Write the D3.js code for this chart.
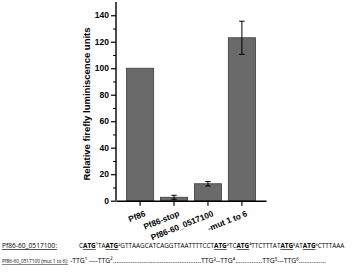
<!DOCTYPE html>
<html>
<head>
<meta charset="utf-8">
<script src="https://cdn.jsdelivr.net/npm/d3@7"></script>
<style>
  body { margin: 0; background: #fff; }
  svg { display: block; font-family: Arial, "Liberation Sans", sans-serif; }
  .axis text { font-weight: bold; font-size: 8.5px; fill: #000; }
  .axis path, .axis line { stroke: #000; }
</style>
</head>
<body>
<div id="graphic"></div>
<script>
// chart data
const categories = ['Pf86', 'Pf86-stop', 'Pf86-60_0517100', '-mut 1 to 6'];
const values = [100, 2.6, 12.8, 123];
const errors = [null, 1.5, 1.7, 12.5];
const yTicks = [0, 20, 40, 60, 80, 100, 120, 140];
const yMinorTicks = [10, 30, 50, 70, 90, 110, 130];
const yLabel = 'Relative firefly luminiscence units';

// sequence lines under the chart: [text, underlined]
const seqLabel1 = 'Pf86-60_0517100:';
const seqLabel2 = 'Pf86-60_0517100 (mut 1 to 6):';
const seq1 = [['C'], ['ATG', true], ['¹TA'], ['ATG', true], ['²GTTAAGCATCAGGTTAATTTTCCT'],
  ['ATG', true], ['³TC'], ['ATG', true], ['⁴TTCTTTAT'], ['ATG', true], ['⁵AT'], ['ATG', true], ['⁶CTTTAAA']];
const seq2 = '-TTG¹ ----TTG².................................................TTG³--TTG⁴...............TTG⁵---TTG⁶...............';

const width = 359, height = 273;
const margin = { left: 116, top: 2, right: 93, bottom: 72 };
const plotH = height - margin.top - margin.bottom; // 0 line at ~y=201

const svg = d3.select('#graphic').append('svg')
  .attr('width', width).attr('height', height);

const g = svg.append('g').attr('transform', `translate(${margin.left},${margin.top})`);

const x = d3.scaleBand()
  .domain(categories)
  .range([0, width - margin.left - margin.right])
  .paddingInner(0.2)
  .paddingOuter(0.31);

const y = d3.scaleLinear().domain([0, 150]).range([plotH - 0.3, 0]);

// bars
g.selectAll('rect.bar')
  .data(categories)
  .join('rect')
  .attr('class', 'bar')
  .attr('x', d => x(d))
  .attr('width', x.bandwidth())
  .attr('y', (d, i) => y(values[i]))
  .attr('height', (d, i) => y(0) - y(values[i]))
  .attr('fill', '#6a6a6a')
  .attr('stroke', '#3c3c3c')
  .attr('stroke-width', 0.8);

// error bars
const eb = g.selectAll('g.err')
  .data(categories.map((c, i) => ({ c, v: values[i], e: errors[i] })).filter(d => d.e !== null))
  .join('g')
  .attr('class', 'err')
  .attr('stroke', '#000')
  .attr('stroke-width', 1);
const cx = d => x(d.c) + x.bandwidth() / 2;
eb.append('line')
  .attr('x1', cx).attr('x2', cx)
  .attr('y1', d => y(d.v - d.e)).attr('y2', d => y(d.v + d.e));
[-1, 1].forEach(s => {
  eb.append('line')
    .attr('x1', d => cx(d) - 2.7).attr('x2', d => cx(d) + 2.7)
    .attr('y1', d => y(d.v + s * d.e)).attr('y2', d => y(d.v + s * d.e));
});

// y axis
const yAxis = g.append('g').attr('class', 'axis')
  .call(d3.axisLeft(y).tickValues(yTicks).tickSize(5).tickPadding(2).tickSizeOuter(0));
yAxis.select('.domain').attr('stroke-width', 1.4).attr('d', `M0,${y(150)}V${y(0)}`);
yAxis.selectAll('.tick line').attr('stroke-width', 1.2);
g.append('g').attr('class', 'axis')
  .call(d3.axisLeft(y).tickValues(yMinorTicks).tickSize(3).tickFormat(''))
  .call(a => a.select('.domain').remove())
  .selectAll('.tick line').attr('stroke-width', 1);

// x axis
const xAxis = g.append('g').attr('class', 'axis')
  .attr('transform', `translate(0,${y(0)})`)
  .call(d3.axisBottom(x).tickSize(5).tickSizeOuter(0));
xAxis.select('.domain').attr('stroke-width', 1.4);
xAxis.selectAll('.tick line').attr('stroke-width', 1.2);
xAxis.selectAll('.tick text')
  .attr('text-anchor', 'end')
  .attr('dy', 0)
  .attr('transform', 'translate(6,15) rotate(-22)')
  .attr('y', 0)
  .style('font-size', '8.3px');

// y axis label
svg.append('text')
  .attr('transform', `translate(90,${104}) rotate(-90)`)
  .attr('text-anchor', 'middle')
  .style('font-weight', 'bold')
  .style('font-size', '9.5px')
  .text(yLabel);

// sequence notes under the chart - font size is fitted so the natural width matches
const noteFont = '"Liberation Sans Narrow", "Open Sans", Arial, sans-serif';
function noteText(xPos, yPos, size) {
  return svg.append('text')
    .attr('x', xPos).attr('y', yPos)
    .style('font-family', noteFont)
    .style('font-size', size + 'px');
}
function fit(sel, len, size) {
  const w = sel.node().getComputedTextLength();
  if (w > len) sel.style('font-size', (size * len / w) + 'px');
}

const l1 = noteText(2, 248, 7).style('text-decoration', 'underline').text(seqLabel1);
fit(l1, 55, 7);
const l2 = noteText(2, 263, 7).style('text-decoration', 'underline').text(seqLabel2);
fit(l2, 66, 7);

const s1 = noteText(79, 248, 7);
seq1.forEach(p => {
  const t = s1.append('tspan').text(p[0]);
  if (p[1]) t.style('text-decoration', 'underline').style('font-weight', 'bold');
});
fit(s1, 266, 7);
const s2 = noteText(70, 263, 7).text(seq2);
fit(s2, 256, 7);
</script>
</body>
</html>
